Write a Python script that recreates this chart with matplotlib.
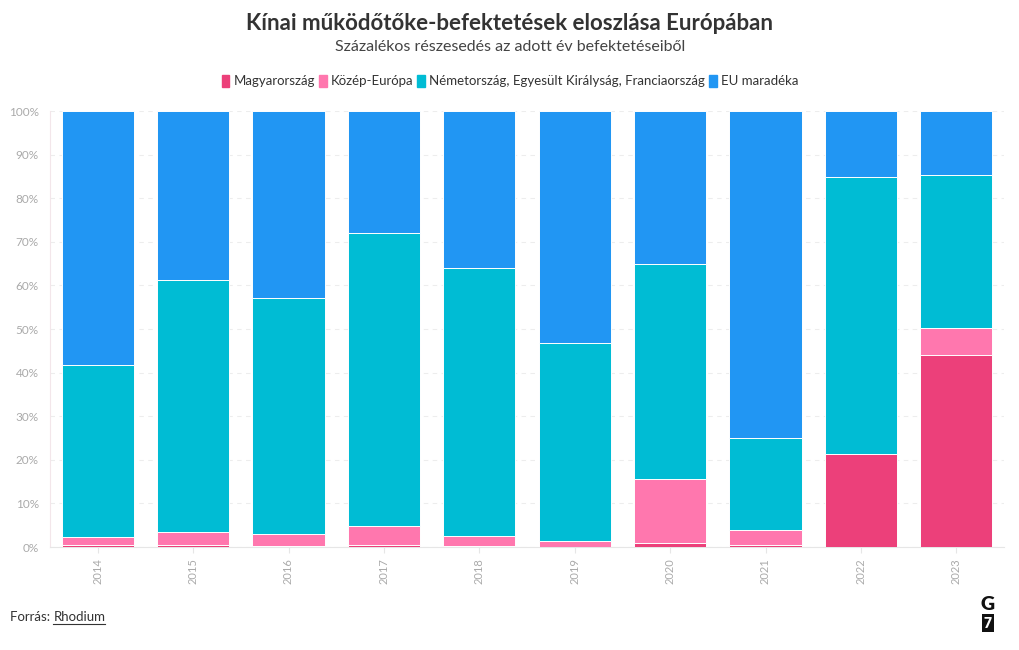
import numpy as np
import matplotlib.pyplot as plt
from matplotlib.patches import Patch

plt.rcParams['font.family'] = ['Lato', 'DejaVu Sans']

years = ["2014", "2015", "2016", "2017", "2018", "2019", "2020", "2021", "2022", "2023"]
series_names = ["Magyarország", "Közép-Európa",
                "Németország, Egyesült Királyság, Franciaország", "EU maradéka"]

# percent shares
hungary = [0.5, 0.5, 0.2, 0.5, 0.2, 0.1, 1.0, 0.5, 21.3, 44.0]
cee     = [1.7, 2.9, 2.8, 4.3, 2.3, 1.3, 14.6, 3.3, 0.0, 6.2]
big3    = [39.5, 57.8, 54.1, 67.2, 61.5, 45.4, 49.3, 21.2, 63.6, 35.1]
rest    = [58.3, 38.8, 42.9, 28.0, 36.0, 53.2, 35.1, 75.0, 15.1, 14.7]

colors = ["#EC407A", "#FF77AE", "#00BCD4", "#2196F3"]

fig = plt.figure(figsize=(10.2, 6.5), dpi=100)
ax = fig.add_axes([50/1020, 1 - 547/650, 954/1020, 436/650])

x = np.arange(len(years))
bottom = np.zeros(len(years))
for vals, col in zip([hungary, cee, big3, rest], colors):
    v = np.array(vals)
    ax.bar(x, v, bottom=bottom, width=0.755, color=col,
           edgecolor="white", linewidth=0.7, zorder=3)
    bottom += v

ax.set_xlim(-0.5, len(years) - 0.5)
ax.set_ylim(0, 100)
ax.set_yticks(range(0, 101, 10))
ax.set_yticklabels([f"{t}%" for t in range(0, 101, 10)])
ax.set_xticks(x)
ax.set_xticklabels(years, rotation=90)
ax.tick_params(axis="y", length=0, labelsize=8.5, labelcolor="#AAAAAA", pad=8)
ax.tick_params(axis="x", length=4, color="#E6E6E6", labelsize=8, labelcolor="#AAAAAA", pad=4)
ax.grid(axis="y", color="#EDEDED", linestyle=(0, (4, 4)), linewidth=0.8, zorder=0)
for s in ["top", "right"]:
    ax.spines[s].set_visible(False)
ax.spines["left"].set_color("#F3E6EA")
ax.spines["bottom"].set_color("#E6E6E6")

fig.text(0.5, 1 - 24/650, "Kínai működőtőke-befektetések eloszlása Európában",
         ha="center", va="center", fontsize=16, fontweight="bold", color="#333333")
fig.text(0.5, 1 - 47/650, "Százalékos részesedés az adott év befektetéseiből",
         ha="center", va="center", fontsize=11.5, color="#444444")

handles = [Patch(facecolor=c, edgecolor=c) for c in colors]
fig.legend(handles, series_names, loc="center", bbox_to_anchor=(0.5, 1 - 81/650),
           ncol=4, frameon=False, fontsize=9.5, handlelength=0.6, handleheight=1.1,
           handletextpad=0.3, columnspacing=0.3, labelcolor="#333333")

t1 = fig.text(10/1020, 1 - 617/650, "Forrás: ", ha="left", va="center",
              fontsize=9.5, color="#333333")
fig.canvas.draw()
bb = t1.get_window_extent()
t2 = fig.text(bb.x1 / fig.bbox.width, 1 - 617/650, "Rhodium", ha="left", va="center",
              fontsize=9.5, color="#333333")
fig.canvas.draw()
bb2 = t2.get_window_extent()
fig.add_artist(plt.Line2D([bb2.x0 / 1020, bb2.x1 / 1020],
                          [1 - 624/650, 1 - 624/650], color="#333333", linewidth=0.8))

# G7 logo
fig.text(988/1020, 1 - 605/650, "G", ha="center", va="center", fontsize=14,
         fontweight="heavy", color="#111111")
fig.text(988/1020, 1 - 623/650, "7", ha="center", va="center", fontsize=10,
         fontweight="heavy", color="white",
         bbox=dict(boxstyle="square,pad=0.15", facecolor="#111111", edgecolor="none"))

fig.savefig("out.png", dpi=100)
